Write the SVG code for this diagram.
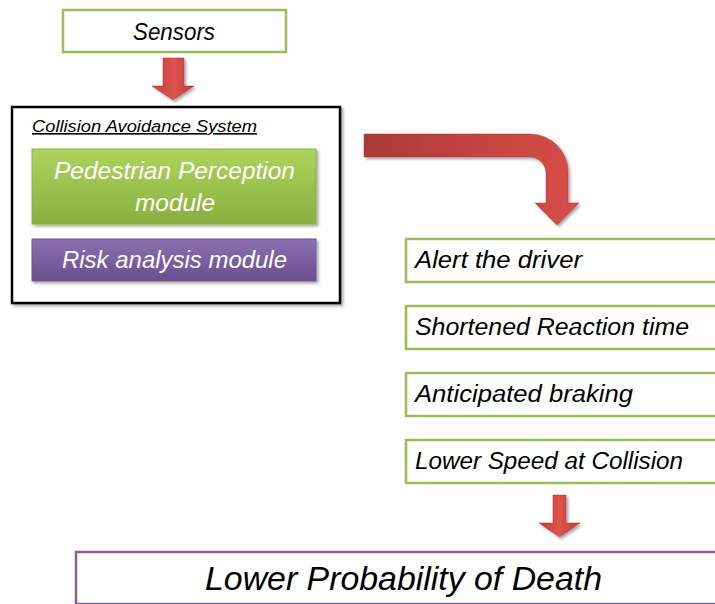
<svg xmlns="http://www.w3.org/2000/svg" width="715" height="604" viewBox="0 0 715 604">
<defs>
<linearGradient id="gGreen" x1="0" y1="0" x2="0" y2="1"><stop offset="0" stop-color="#AED45F"/><stop offset="1" stop-color="#89AF3E"/></linearGradient>
<linearGradient id="gPurple" x1="0" y1="0" x2="0" y2="1"><stop offset="0" stop-color="#8C70B0"/><stop offset="1" stop-color="#6A4F8E"/></linearGradient>
<linearGradient id="gRedV" x1="0" y1="0" x2="1" y2="0"><stop offset="0" stop-color="#B8403C"/><stop offset="0.5" stop-color="#E0524E"/><stop offset="1" stop-color="#B8403C"/></linearGradient>
<linearGradient id="gRedH" x1="0" y1="0" x2="1" y2="0"><stop offset="0" stop-color="#A83A37"/><stop offset="1" stop-color="#D84D49"/></linearGradient>
<filter id="sh" x="-10%" y="-10%" width="130%" height="140%"><feDropShadow dx="2" dy="2" stdDeviation="1.5" flood-color="#000" flood-opacity="0.35"/></filter>
</defs>
<style>
.t{font-family:"Liberation Sans",Arial,sans-serif;font-style:italic;fill:#000}
.w{font-family:"Liberation Sans",Arial,sans-serif;font-style:italic;fill:#fff}
.gb{fill:#fff;stroke:#9BBB59;stroke-width:2.5}
</style>
<g id="sensors">
<rect class="gb" x="63" y="10" width="223" height="42"/>
<text class="t" x="133" y="40" font-size="23" textLength="82" lengthAdjust="spacingAndGlyphs">Sensors</text>
</g>
<g id="cas">
<rect x="12" y="107" width="328" height="196" fill="#fff" stroke="#000" stroke-width="2.5" filter="url(#sh)"/>
<text class="t" x="32" y="132" font-size="16" textLength="225" lengthAdjust="spacingAndGlyphs" text-decoration="underline">Collision Avoidance System</text>
</g>
<g id="ppm">
<rect x="32" y="149" width="284" height="75" fill="url(#gGreen)" stroke="#8AAE48" stroke-width="1" filter="url(#sh)"/>
<text class="w" x="54" y="179" font-size="24" textLength="241" lengthAdjust="spacingAndGlyphs">Pedestrian Perception</text>
<text class="w" x="135" y="211" font-size="24" textLength="80" lengthAdjust="spacingAndGlyphs">module</text>
</g>
<g id="ram">
<rect x="32" y="239" width="284" height="42" fill="url(#gPurple)" stroke="#6E5590" stroke-width="1" filter="url(#sh)"/>
<text class="w" x="62" y="268" font-size="24" textLength="225" lengthAdjust="spacingAndGlyphs">Risk analysis module</text>
</g>
<g id="alert">
<rect class="gb" x="406" y="239" width="320" height="43"/>
<text class="t" x="415" y="268" font-size="23" textLength="167" lengthAdjust="spacingAndGlyphs">Alert the driver</text>
</g>
<g id="shortened">
<rect class="gb" x="406" y="306" width="320" height="43"/>
<text class="t" x="415" y="335" font-size="23" textLength="274" lengthAdjust="spacingAndGlyphs">Shortened Reaction time</text>
</g>
<g id="anticipated">
<rect class="gb" x="406" y="373" width="320" height="43"/>
<text class="t" x="415" y="402" font-size="23" textLength="218" lengthAdjust="spacingAndGlyphs">Anticipated braking</text>
</g>
<g id="lowerspeed">
<rect class="gb" x="406" y="440" width="320" height="43"/>
<text class="t" x="415" y="469" font-size="23" textLength="268" lengthAdjust="spacingAndGlyphs">Lower Speed at Collision</text>
</g>
<g id="death">
<rect x="76" y="552" width="660" height="52" fill="#fff" stroke="#8064A2" stroke-width="2.5"/>
<text class="t" x="205" y="590" font-size="33" textLength="397" lengthAdjust="spacingAndGlyphs">Lower Probability of Death</text>
</g>
<g id="connectors" filter="url(#sh)">
<path d="M163,58 H184 V86 H194 L173,100 L152,86 H163 Z" fill="url(#gRedV)" stroke="#A53A36" stroke-width="0.5"/>
<path d="M364,134 H530 A38,38 0 0 1 568,172 V203 H579 L557,225 L535,203 H546 V173 A16,16 0 0 0 530,157 H364 Z" fill="url(#gRedH)" stroke="#A53A36" stroke-width="0.5"/>
<path d="M553,495 H566 V523 H580 L559.5,537 L539,523 H553 Z" fill="url(#gRedV)" stroke="#A53A36" stroke-width="0.5"/>
</g>
</svg>
